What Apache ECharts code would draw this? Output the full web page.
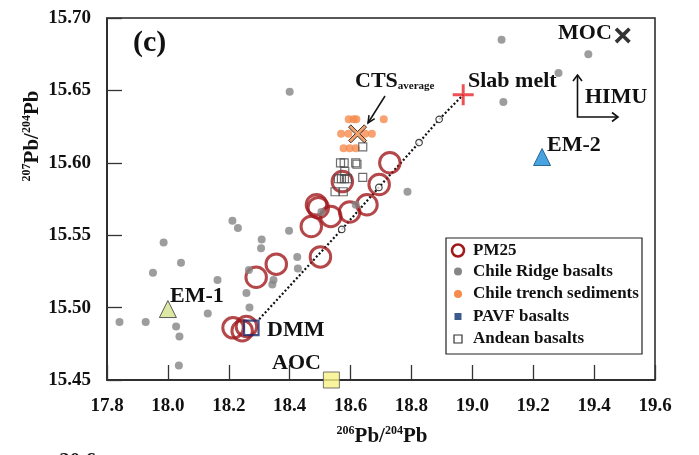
<!DOCTYPE html>
<html><head><meta charset="utf-8">
<script src="https://cdn.jsdelivr.net/npm/echarts@6/dist/echarts.min.js"></script>
<style>html,body{margin:0;padding:0;background:#fff}#c{width:699px;height:455px}</style>
</head><body><div id="c"></div>
<script>
const FONT = '"Liberation Serif","Times New Roman",serif';
const xTicks = ['17.8','18.0','18.2','18.4','18.6','18.8','19.0','19.2','19.4','19.6'];
const yTicks = ['15.45','15.50','15.55','15.60','15.65','15.70'];

const pm25 = [
  [18.729,15.600],[18.573,15.587],[18.694,15.585],[18.488,15.571],[18.494,15.569],
  [18.654,15.571],[18.597,15.566],[18.535,15.563],[18.471,15.556],[18.501,15.535],
  [18.356,15.530],[18.290,15.521],[18.214,15.486],[18.258,15.487],[18.244,15.484]
];
const chileRidge = [
  [18.212,15.560],[18.230,15.555],[18.308,15.547],[18.306,15.541],[18.398,15.553],
  [18.425,15.535],[18.427,15.527],[18.266,15.526],[18.347,15.519],[18.343,15.516],
  [18.258,15.510],[18.268,15.500],[18.504,15.566],[17.986,15.545],[17.951,15.524],
  [18.043,15.531],[18.163,15.519],[18.131,15.496],[17.841,15.490],[17.927,15.490],
  [18.027,15.487],[18.038,15.480],[18.036,15.460],[19.096,15.685],[19.381,15.675],
  [19.283,15.662],[19.102,15.642],[18.787,15.580],[18.400,15.649],[18.617,15.571]
];
const trenchSed = [
  [18.594,15.630],[18.610,15.630],[18.619,15.630],[18.709,15.630],
  [18.569,15.620],[18.593,15.620],[18.648,15.620],[18.670,15.620],
  [18.577,15.610],[18.597,15.610],[18.617,15.610]
];
const pavf = [];
const andean = [
  [18.640,15.611],[18.567,15.600],[18.579,15.600],[18.617,15.600],[18.621,15.599],
  [18.581,15.594],[18.560,15.589],[18.570,15.589],[18.580,15.589],[18.590,15.589],
  [18.640,15.590],[18.549,15.580],[18.576,15.580]
];
const mixingLine = [[18.300,15.492],[18.571,15.554],[18.693,15.583],[18.825,15.614],[18.891,15.630],[18.970,15.647]];
const mixingSteps = [[18.571,15.554],[18.693,15.583],[18.825,15.614],[18.891,15.630]];
const dmm = [[18.274,15.486]];
const em1 = [[18.000,15.499]];
const em2 = [[19.229,15.604]];
const aoc = [[18.537,15.450]];
const moc = [[19.494,15.688]];
const slabMelt = [[18.970,15.647]];
const ctsAverage = [[18.623,15.620]];

const X_PATH = 'path://M0,2.6 L2.6,0 L10,7.4 L17.4,0 L20,2.6 L12.6,10 L20,17.4 L17.4,20 L10,12.6 L2.6,20 L0,17.4 L7.4,10 Z';
const X_BOLD = 'path://M0,3.2 L3.2,0 L10,6.8 L16.8,0 L20,3.2 L13.2,10 L20,16.8 L16.8,20 L10,13.2 L3.2,20 L0,16.8 L6.8,10 Z';
const PLUS_PATH = 'path://M8.6,0 H11.4 V8.6 H20 V11.4 H11.4 V20 H8.6 V11.4 H0 V8.6 H8.6 Z';

const chart = echarts.init(document.getElementById('c'), null, {renderer:'canvas'});
const noEmph = {disabled:true};
function sc(name, data, symbol, size, itemStyle, z) {
  return {type:'scatter', name, data, symbol, symbolSize:size, itemStyle, z:z||2, clip:false, emphasis:noEmph, silent:true};
}
const txt = (text, x, y, size, extra) => Object.assign({
  type:'text', x, y, z:50,
  style:Object.assign({text, font:'bold '+size+'px '+FONT, fill:'#111', align:'left', verticalAlign:'middle'}, extra||{})
});
const rich = {
  s:{fontSize:12, fontWeight:'bold', fontFamily:FONT, lineHeight:12, verticalAlign:'top', fill:'#111'},
  m:{fontSize:21, fontWeight:'bold', fontFamily:FONT, lineHeight:24, fill:'#111'}
};
const legendRows = [
  ['PM25',250.5],['Chile Ridge basalts',271.5],['Chile trench sediments',294],['PAVF basalts',316.5],['Andean basalts',339]
];

const option = {
  animation:false,
  backgroundColor:'#fff',
  grid:{left:107, top:18, right:44, bottom:75, show:true, borderColor:'#222', borderWidth:1.5, backgroundColor:'transparent'},
  xAxis:{
    type:'value', min:+xTicks[0], max:+xTicks[xTicks.length-1], interval:+(xTicks[1]-xTicks[0]).toFixed(2),
    axisLine:{show:true, lineStyle:{color:'#222', width:1.5}},
    axisTick:{show:true, inside:true, length:15, lineStyle:{color:'#333', width:1.3}},
    splitLine:{show:false},
    axisLabel:{margin:17, color:'#111', fontSize:19, fontWeight:'bold', fontFamily:FONT,
      formatter:v => xTicks.find(t => Math.abs(+t - v) < 1e-6) || v.toFixed(1)}
  },
  yAxis:{
    type:'value', min:+yTicks[0], max:+yTicks[yTicks.length-1], interval:+(yTicks[1]-yTicks[0]).toFixed(2),
    axisLine:{show:true, lineStyle:{color:'#222', width:1.5}},
    axisTick:{show:true, inside:true, length:15, lineStyle:{color:'#333', width:1.3}},
    splitLine:{show:false},
    axisLabel:{margin:16, color:'#111', fontSize:19, fontWeight:'bold', fontFamily:FONT,
      formatter:v => yTicks.find(t => Math.abs(+t - v) < 1e-6) || v.toFixed(2)}
  },
  series:[
    {type:'line', name:'mixing', data:mixingLine, symbol:'none', z:1, silent:true,
     lineStyle:{color:'#111', width:2.2, type:[2,2.2]}},
    sc('PM25', pm25, 'circle', 20.5, {color:'rgba(0,0,0,0)', borderColor:'#a0191d', borderWidth:3}, 3),
    sc('Chile Ridge basalts', chileRidge, 'circle', 8, {color:'#858585'}, 4),
    sc('Chile trench sediments', trenchSed, 'circle', 8, {color:'#f58b4c'}, 4),
    sc('PAVF basalts', pavf, 'rect', 7, {color:'#3d5a8e'}, 4),
    sc('Andean basalts', andean, 'rect', 8, {color:'rgba(0,0,0,0)', borderColor:'#4a4a4a', borderWidth:1.2}, 4),
    sc('mixing steps', mixingSteps, 'circle', 6.5, {color:'#fff', borderColor:'#111', borderWidth:1.2}, 5),
    sc('DMM', dmm, 'rect', 14.5, {color:'rgba(0,0,0,0)', borderColor:'#1a2b6d', borderWidth:2.2}, 6),
    sc('EM-1', em1, 'triangle', 17, {color:'#d6e28e', borderColor:'#333', borderWidth:1}, 6),
    sc('EM-2', em2, 'triangle', 17, {color:'#1a8cd8', borderColor:'#0b4f80', borderWidth:1}, 6),
    sc('AOC', aoc, 'rect', 16, {color:'#f9f186', borderColor:'#555', borderWidth:1}, 6),
    sc('MOC', moc, X_BOLD, 16, {color:'#000'}, 6),
    sc('Slab melt', slabMelt, PLUS_PATH, 21, {color:'#e8242a'}, 6),
    sc('CTS average', ctsAverage, X_PATH, 18, {color:'#f08a45', borderColor:'#111', borderWidth:1}, 7)
  ],
  graphic:[
    txt('(c)', 133, 43, 30),
    {type:'text', x:355, y:80, z:50, style:{text:'{a|CTS}{b|average}', align:'left', verticalAlign:'middle',
      rich:{a:{fontSize:22, fontWeight:'bold', fontFamily:FONT, lineHeight:24, fill:'#111', verticalAlign:'bottom'},
            b:{fontSize:11, fontWeight:'bold', fontFamily:FONT, lineHeight:12, fill:'#111', verticalAlign:'bottom'}}}},
    txt('Slab melt', 468, 81, 22),
    txt('MOC', 558, 33, 22),
    txt('HIMU', 585, 97, 22),
    txt('EM-2', 547, 145, 22),
    txt('EM-1', 170, 296, 22),
    txt('DMM', 267, 330, 22),
    txt('AOC', 272, 363, 22),
    txt('20.6', 96, 462, 21, {align:'right'}),
    {type:'polyline', z:50, shape:{points:[[385,96],[368,123]]}, style:{stroke:'#111', lineWidth:1.5, fill:null}},
    {type:'polyline', z:50, shape:{points:[[374.7,118.7],[368,123],[369,115.1]]}, style:{stroke:'#111', lineWidth:1.5, fill:null}},
    {type:'polyline', z:50, shape:{points:[[577.5,75],[577.5,117],[618,117]]}, style:{stroke:'#111', lineWidth:1.6, fill:null}},
    {type:'polyline', z:50, shape:{points:[[573,81],[577.5,75],[582,81]]}, style:{stroke:'#111', lineWidth:1.6, fill:null}},
    {type:'polyline', z:50, shape:{points:[[612,112.5],[618,117],[612,121.5]]}, style:{stroke:'#111', lineWidth:1.6, fill:null}},
    {type:'text', x:382, y:437, z:50, style:{text:'{s|206}{m|Pb/}{s|204}{m|Pb}', rich, align:'center', verticalAlign:'middle'}},
    {type:'text', x:33, y:136, z:50, rotation:Math.PI/2, style:{text:'{s|207}{m|Pb/}{s|204}{m|Pb}', rich, align:'center', verticalAlign:'middle'}},
    {type:'rect', z:60, shape:{x:446, y:238, width:196, height:116}, style:{fill:'#fff', stroke:'#222', lineWidth:1.2}},
    {type:'circle', z:61, shape:{cx:458, cy:legendRows[0][1], r:6}, style:{fill:null, stroke:'#a0191d', lineWidth:2.5}},
    {type:'circle', z:61, shape:{cx:458, cy:legendRows[1][1], r:4}, style:{fill:'#858585'}},
    {type:'circle', z:61, shape:{cx:458, cy:legendRows[2][1], r:4}, style:{fill:'#f58b4c'}},
    {type:'rect', z:61, shape:{x:454.5, y:legendRows[3][1]-3.5, width:7, height:7}, style:{fill:'#3d5a8e'}},
    {type:'rect', z:61, shape:{x:454, y:legendRows[4][1]-4, width:8, height:8}, style:{fill:'#fff', stroke:'#333', lineWidth:1.2}}
  ].concat(legendRows.map(r => Object.assign(txt(r[0], 473, r[1], 17), {z:62})))
};
chart.setOption(option);
</script></body></html>
